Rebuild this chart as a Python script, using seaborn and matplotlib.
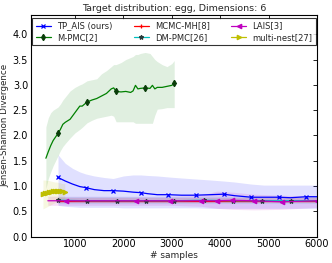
import matplotlib
matplotlib.use("Agg")
import matplotlib.pyplot as plt
import seaborn as sns
import pandas as pd

# --- data ---
tp_x = [650, 800, 950, 1100, 1220, 1400, 1600, 1790, 2000, 2200, 2360, 2500, 2700,
        2930, 3200, 3500, 3800, 4070, 4300, 4640, 4900, 5210, 5450, 5780, 6000]
tp_y = [1.17, 1.10, 1.04, 0.99, 0.97, 0.93, 0.91, 0.91, 0.90, 0.88, 0.87, 0.85, 0.83,
        0.83, 0.82, 0.82, 0.83, 0.84, 0.81, 0.78, 0.78, 0.78, 0.77, 0.79, 0.79]
tp_hi = [1.62, 1.45, 1.35, 1.28, 1.24, 1.20, 1.17, 1.15, 1.20, 1.22, 1.22, 1.21, 1.20,
         1.18, 1.16, 1.14, 1.12, 1.10, 1.08, 1.04, 1.02, 1.02, 1.02, 1.02, 1.02]
tp_lo = [0.62, 0.60, 0.59, 0.58, 0.58, 0.58, 0.58, 0.58, 0.57, 0.57, 0.57, 0.57, 0.57,
         0.57, 0.57, 0.57, 0.56, 0.56, 0.56, 0.56, 0.56, 0.56, 0.56, 0.56, 0.56]

mpmc_x = [400, 450, 500, 550, 600, 650, 700, 750, 800, 900, 1000, 1100, 1150, 1250,
          1350, 1450, 1550, 1650, 1750, 1800, 1850, 1950, 2050, 2150, 2200, 2250, 2300,
          2350, 2450, 2550, 2600, 2650, 2700, 2800, 2900, 3000, 3050]
mpmc_y = [1.55, 1.68, 1.80, 1.90, 1.97, 2.04, 2.12, 2.22, 2.26, 2.32, 2.45, 2.58, 2.58,
          2.66, 2.70, 2.73, 2.78, 2.83, 2.92, 2.94, 2.87, 2.86, 2.87, 2.85, 2.88, 2.99,
          2.92, 2.93, 2.94, 2.93, 2.99, 2.92, 2.95, 2.95, 2.97, 2.99, 3.03]
mpmc_hi = [2.17, 2.35, 2.45, 2.50, 2.53, 2.56, 2.62, 2.70, 2.76, 2.88, 2.95, 3.00, 3.02,
           3.08, 3.10, 3.12, 3.22, 3.28, 3.36, 3.40, 3.40, 3.44, 3.50, 3.54, 3.56, 3.60,
           3.60, 3.62, 3.64, 3.62, 3.56, 3.50, 3.46, 3.40, 3.36, 3.42, 3.48]
mpmc_lo = [0.95, 1.15, 1.28, 1.40, 1.50, 1.60, 1.70, 1.78, 1.84, 1.95, 2.05, 2.12, 2.16,
           2.25, 2.30, 2.34, 2.36, 2.38, 2.40, 2.38, 2.27, 2.27, 2.27, 2.27, 2.27, 2.24,
           2.24, 2.24, 2.24, 2.24, 2.24, 2.40, 2.52, 2.53, 2.55, 2.55, 2.55]

mh_x = [650, 1500, 2500, 3500, 4500, 5500, 6000]
mh_y = [0.71, 0.71, 0.71, 0.71, 0.71, 0.71, 0.71]
mh_hi = [0.76, 0.76, 0.76, 0.76, 0.76, 0.76, 0.76]
mh_lo = [0.66, 0.66, 0.66, 0.66, 0.66, 0.66, 0.66]

dm_x = [650, 1254, 1860, 2460, 3050, 3655, 4255, 4860, 5460, 6000]
dm_y = [0.72, 0.71, 0.71, 0.71, 0.71, 0.72, 0.71, 0.71, 0.71, 0.71]
dm_hi = [0.78, 0.78, 0.78, 0.78, 0.78, 0.78, 0.78, 0.78, 0.78, 0.78]
dm_lo = [0.64, 0.64, 0.64, 0.64, 0.64, 0.64, 0.64, 0.64, 0.64, 0.64]

lais_x = [440, 810, 1500, 2260, 2965, 3610, 3935, 4250, 4690, 5275, 6000]
lais_y = [0.71, 0.71, 0.71, 0.71, 0.71, 0.71, 0.71, 0.72, 0.71, 0.69, 0.71]
lais_hi = [0.80, 0.80, 0.80, 0.80, 0.80, 0.82, 0.90, 0.88, 0.84, 0.82, 0.80]
lais_lo = [0.62, 0.62, 0.62, 0.62, 0.62, 0.60, 0.56, 0.54, 0.53, 0.54, 0.58]

mn_x = [340, 380, 420, 460, 500, 540, 580, 620, 660, 700, 740, 790]
mn_y = [0.84, 0.86, 0.87, 0.88, 0.89, 0.90, 0.90, 0.91, 0.91, 0.90, 0.90, 0.89]
mn_hi = [1.12, 1.12, 1.11, 1.11, 1.10, 1.09, 1.08, 1.08, 1.07, 1.06, 1.05, 1.05]
mn_lo = [0.55, 0.57, 0.59, 0.61, 0.63, 0.65, 0.67, 0.69, 0.71, 0.73, 0.75, 0.76]

x_ticks = [1000, 2000, 3000, 4000, 5000, 6000]
y_ticks = [0.0, 0.5, 1.0, 1.5, 2.0, 2.5, 3.0, 3.5, 4.0]

series = [
    # label, x, y, hi, lo, color, marker, marker color, markevery
    ("TP_AIS (ours)", tp_x, tp_y, tp_hi, tp_lo, (0, 0, 1), "x", (0, 0, 1),
     [0, 4, 7, 10, 13, 15, 17, 19, 21, 23]),
    ("M-PMC[2]", mpmc_x, mpmc_y, mpmc_hi, mpmc_lo, (0, 0.5, 0), "d", "#0a3d0a",
     [5, 13, 20, 28, 36]),
    ("MCMC-MH[8]", mh_x, mh_y, mh_hi, mh_lo, (1, 0, 0), "+", (1, 0, 0), []),
    ("DM-PMC[26]", dm_x, dm_y, dm_hi, dm_lo, (0, 0.75, 0.75), "*", "#2a3a3a",
     [0, 1, 2, 3, 4, 5, 6, 7, 8]),
    ("LAIS[3]", lais_x, lais_y, lais_hi, lais_lo, (0.75, 0, 0.75), "<", (0.75, 0, 0.75),
     [1, 3, 4, 5, 6, 7, 8, 9, 10]),
    ("multi-nest[27]", mn_x, mn_y, mn_hi, mn_lo, (0.75, 0.75, 0), ">", (0.75, 0.75, 0),
     list(range(len(mn_x)))),
]

sns.set_theme(style="white")
plt.rcParams["font.family"] = ["DejaVu Sans"]
plt.rcParams["xtick.direction"] = "in"
plt.rcParams["ytick.direction"] = "in"

fig = plt.figure(figsize=(3.32, 2.63), dpi=100)
ax = fig.add_axes([0.093, 0.1, 0.862, 0.843])

for label, xs, ys, hi, lo, color, marker, mcolor, mevery in series:
    df = pd.DataFrame({"x": xs, "y": ys})
    ax.fill_between(xs, lo, hi, color=color, alpha=0.12, linewidth=0)
    sns.lineplot(data=df, x="x", y="y", ax=ax, color=color, linewidth=0.9,
                 marker=marker, markersize=3.2, markevery=mevery,
                 markerfacecolor=mcolor, markeredgecolor=mcolor,
                 markeredgewidth=0.9, label=label)

ax.set_xlim(90, 6000)
ax.set_ylim(0, 4.38)
ax.set_xticks(x_ticks)
ax.set_yticks(y_ticks)
ax.set_xticklabels([str(t) for t in x_ticks])
ax.set_yticklabels([f"{t:.1f}" for t in y_ticks])
ax.tick_params(axis="both", labelsize=7, length=3, width=0.6, top=True, right=True,
               pad=2, colors="black")
for s in ax.spines.values():
    s.set_color("black")
    s.set_linewidth(0.8)

ax.set_title("Target distribution: egg, Dimensions: 6", fontsize=6.8, pad=3)
ax.set_xlabel("# samples", fontsize=6.5, labelpad=1)
ax.set_ylabel("Jensen-Shannon Divergence", fontsize=6.3, labelpad=2)

leg = ax.legend(loc="upper center", bbox_to_anchor=(0.5, 0.986), ncol=3,
                fontsize=6.0, frameon=True, fancybox=False, borderaxespad=0,
                handlelength=1.8, handletextpad=0.72, columnspacing=2.6,
                labelspacing=0.3, borderpad=0.4)
leg.get_frame().set_edgecolor("black")
leg.get_frame().set_linewidth(0.8)

fig.savefig("out.png", dpi=100)
